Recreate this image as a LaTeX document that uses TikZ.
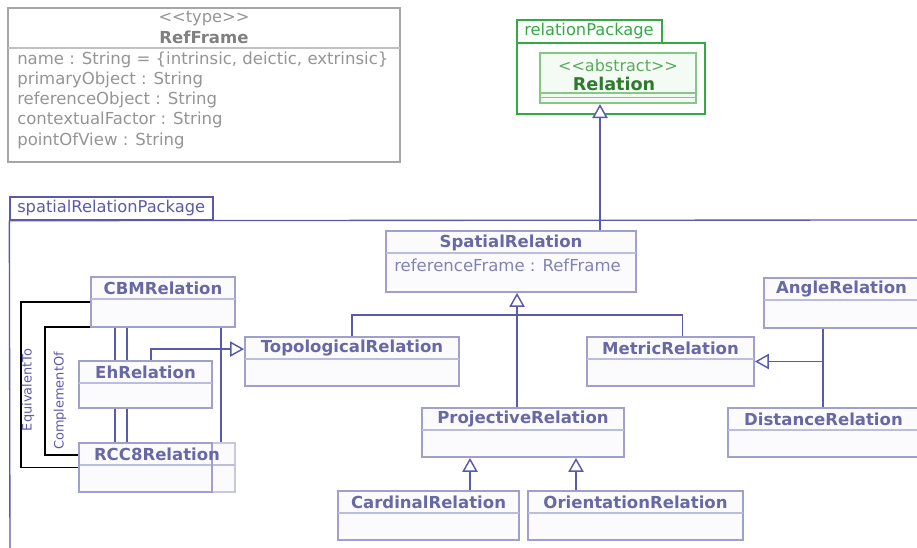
\documentclass[tikz,border=0pt]{standalone}
\usepackage{fontspec}
\setmainfont{DejaVu Sans}
\usetikzlibrary{arrows.meta,calc,fit}
\definecolor{ln}{HTML}{5A5AAA}
\definecolor{bxc}{HTML}{A0A0CE}
\definecolor{bxl}{HTML}{C8C8E4}
\definecolor{bxf}{HTML}{FBFBFE}
\definecolor{sepc}{HTML}{BCBCDC}
\definecolor{ttc}{HTML}{6868A4}
\definecolor{atc}{HTML}{8282B4}
\definecolor{gyb}{HTML}{A6A6A6}
\definecolor{gyt}{HTML}{959595}
\definecolor{gyd}{HTML}{808080}
\definecolor{grl}{HTML}{33AA44}
\definecolor{grb}{HTML}{84C884}
\definecolor{grf}{HTML}{F4FBF4}
\definecolor{grt}{HTML}{5AAA5A}
\definecolor{grd}{HTML}{2E7A2E}
\newcommand\umlcls[6]{%
  \node[cls, fit={(#2,#3)(#4,#5)}] (#1) {};
  \draw[sepl] (#2,{#3+22}) -- (#4,{#3+22});
  \node[ttl] (#1-t) at ({(#2+#4)/2},{#3+11.5}) {#6};
}
\begin{document}
\begin{tikzpicture}[x=0.75pt,y=-0.75pt,
  cls/.style={draw=bxc, line width=1.4pt, fill=bxf, inner sep=0pt},
  sepl/.style={draw=sepc, line width=1pt},
  ttl/.style={font=\bfseries\fontsize{12.4}{14}\selectfont, text=ttc, inner sep=0pt},
  att/.style={font=\fontsize{12.4}{14}\selectfont, text=atc, inner sep=0pt, anchor=west},
  inh/.style={draw=ln, line width=1.1pt, -{Triangle[open,length=10.5pt,width=11.5pt,fill=white]}},
  lnk/.style={draw=ln, line width=1.1pt},
  assoc/.style={draw=black, line width=1.1pt},
  pkg/.style={draw=ln, line width=1pt},
  pkl/.style={font=\fontsize{12.2}{14}\selectfont, inner sep=0pt, anchor=west},
  rlbl/.style={font=\fontsize{9.7}{11}\selectfont, text=ln, inner sep=0pt, rotate=90},
]
\useasboundingbox (0,0) rectangle (917,548);

% RefFrame
\node[draw=gyb, line width=1.5pt, fill=white, inner sep=0pt, fit={(8,8)(400,162)}] (refframe) {};
\draw[draw=gyb!70, line width=1pt] (8,48) -- (400,48);
\node[font=\fontsize{12.2}{14}\selectfont, text=gyt, inner sep=0pt] (rf-st) at (204,18) {<\kern0pt<type>\kern0pt>};
\node[font=\bfseries\fontsize{12.4}{14}\selectfont, text=gyd, inner sep=0pt] (rf-t) at (204,37) {RefFrame};
\node[att, text=gyt] (rf-a1) at (17,60) {name : String = \{intrinsic, deictic, extrinsic\}};
\node[att, text=gyt] (rf-a2) at (17,80) {primaryObject : String};
\node[att, text=gyt] (rf-a3) at (17,100) {referenceObject : String};
\node[att, text=gyt] (rf-a4) at (17,120) {contextualFactor : String};
\node[att, text=gyt] (rf-a5) at (17,141) {pointOfView : String};

% relationPackage
\node[draw=grl, line width=1pt, inner sep=0pt, fit={(517,20)(662,43)}] (rptab) {};
\node[pkl, text=grl] (rptab-t) at (524,31.5) {relationPackage};
\node[draw=grl, line width=1pt, inner sep=0pt, fit={(517,43)(705,114)}] (rpbody) {};
\node[draw=grb, line width=1.6pt, fill=grf, inner sep=0pt, fit={(540,53)(696,103)}] (relation) {};
\draw[draw=grb, line width=1pt] (540,93) -- (696,93);
\draw[draw=grb, line width=1pt] (540,97.5) -- (696,97.5);
\node[font=\fontsize{12}{14}\selectfont, text=grt, inner sep=0pt] (rel-st) at (618,66) {<\kern0pt<abstract>\kern0pt>};
\node[font=\bfseries\fontsize{13.2}{15}\selectfont, text=grd, inner sep=0pt] (rel-t) at (614,84) {Relation};

% spatialRelationPackage
\node[pkg, inner sep=0pt, fit={(10,197)(213,220)}] (sptab) {};
\node[pkl, text=ln] (sptab-t) at (17,208.5) {spatialRelationPackage};
\draw[pkg] (sptab.south west) -- (10,560);
\draw[pkg] (sptab.south west) -- (930,220);

% classes
\umlcls{spatial}{386}{231}{636}{292}{SpatialRelation}
\node[att] (spatial-a) at (394,265) {referenceFrame : RefFrame};
\umlcls{cbm}{91}{277}{235}{327}{CBMRelation}
\umlcls{eh}{79}{361}{212}{408}{EhRelation}
\node[cls, draw=bxl, fit={(79,443)(235,492)}] (rcco) {};
\draw[sepl] (79,465) -- (235,465);
\node[draw=bxc, line width=1.4pt, inner sep=0pt, fit={(79,443)(212,492)}] (rcc) {};
\node[ttl] (rcc-t) at (157,454.5) {RCC8Relation};
\umlcls{topo}{245}{337}{459}{386}{TopologicalRelation}
\umlcls{metric}{587}{337}{754}{386}{MetricRelation}
\umlcls{angle}{764}{278}{919}{328}{AngleRelation}
\umlcls{dist}{728}{408}{919}{457}{DistanceRelation}
\umlcls{proj}{422}{408}{624}{457}{ProjectiveRelation}
\umlcls{card}{338}{491}{519}{540}{CardinalRelation}
\umlcls{orient}{528}{491}{743}{540}{OrientationRelation}

% Spatial -> Relation
\path ($(spatial.north)+(89,0)$) coordinate (sptop);
\draw[inh] (sptop) -- (sptop |- relation.south);

% generalisation trunk
\coordinate (jn) at (517,315);
\draw[inh] (jn) -- (jn |- spatial.south);
\draw[lnk] (topo.north) |- (jn);
\draw[lnk] ($(metric.north)+(12,0)$) |- (jn);
\draw[lnk] (jn) -- (jn |- proj.north);

% projective children
\path ($(card.north)+(41.5,0)$) coordinate (cardtop);
\draw[inh] (cardtop) -- (cardtop |- proj.south);
\path ($(orient.north)+(-59.5,0)$) coordinate (ortop);
\draw[inh] (ortop) -- (ortop |- proj.south);

% metric children
\path ($(angle.south west)+(60,0)$) coordinate (angbot);
\draw[lnk] (angbot) -- (angbot |- dist.north);
\path (angbot |- metric.east) coordinate (jm);
\draw[inh] (jm) -- (metric.east);

% topological children
\path ($(eh.north west)+(73,0)$) coordinate (ehtop);
\draw[inh] (ehtop) |- ($(topo.north west)+(0,13)$);
\draw[lnk] ($(cbm.south west)+(25,0)$) -- ($(eh.north west)+(37,0)$);
\draw[lnk] ($(cbm.south west)+(37,0)$) -- ($(eh.north west)+(49,0)$);
\draw[lnk] ($(eh.south west)+(37,0)$) -- ($(rcc.north west)+(37,0)$);
\draw[lnk] ($(eh.south west)+(49,0)$) -- ($(rcc.north west)+(49,0)$);
\draw[lnk] ($(cbm.south west)+(131,0)$) -- ($(rcco.north west)+(143,0)$);

% associations
\draw[assoc] (cbm.west) -- ++(-69,0) |- (rcco.west);
\draw[assoc] ($(cbm.south west)+(0,-1)$) -- ++(-45,0) |- ($(rcco.north west)+(0,13)$);
\node[rlbl] (eqlbl) at (28,390) {EquivalentTo};
\node[rlbl] (cmplbl) at (60,401) {ComplementOf};
\end{tikzpicture}
\end{document}
